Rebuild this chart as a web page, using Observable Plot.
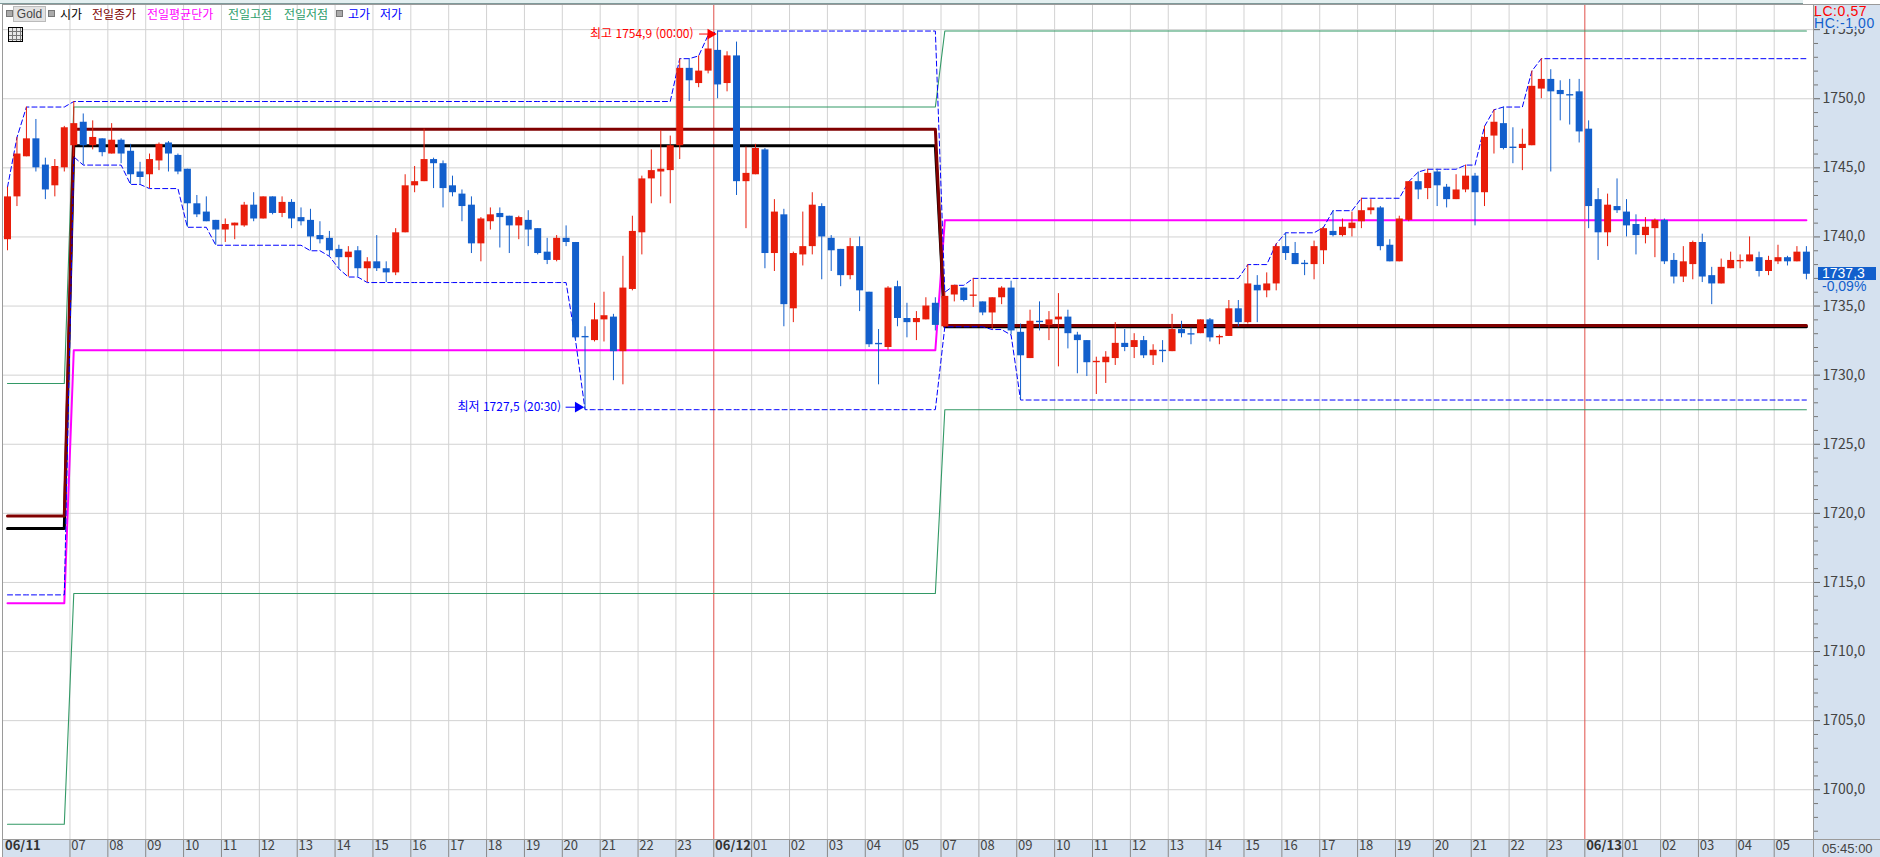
<!DOCTYPE html>
<html lang="ko">
<head>
<meta charset="utf-8">
<script src="https://cdn.jsdelivr.net/npm/d3@7"></script>
<script src="https://cdn.jsdelivr.net/npm/@observablehq/plot@0.6"></script>
<style>
html,body{margin:0;padding:0;background:#fff;width:1880px;height:857px;overflow:hidden}
#stage{position:relative;width:1880px;height:857px;font-family:'Liberation Sans Narrow','Noto Sans CJK KR',sans-serif}
.panel{position:absolute;background:#d5e1ef;z-index:1}
.ln{position:absolute;background:#9a9a9a;z-index:3}
.lg{position:absolute;top:5px;height:16px;line-height:16px;font:12px 'Noto Sans CJK KR',sans-serif;white-space:nowrap;z-index:4}
.sq{position:absolute;top:10px;width:5px;height:5px;background:#aaa;border:1px solid #777;z-index:4}
#topstrip{position:absolute;left:0;top:0;width:1803px;height:3px;background:#e3eff0;border-bottom:1px solid #7f9a9a;z-index:3}
#gold{position:absolute;left:13px;top:6px;width:31px;height:14px;background:#e2e2e2;border:1px solid #bbb;font:12px/14px 'Liberation Sans','Noto Sans CJK KR',sans-serif;color:#444;text-align:center;z-index:4}
#tbl{position:absolute;left:8px;top:27px;width:13px;height:13px;border:1px solid #000;background:linear-gradient(#777,#777) 0 3px/100% 1px no-repeat,linear-gradient(#777,#777) 0 7px/100% 1px no-repeat,linear-gradient(#777,#777) 0 11px/100% 1px no-repeat,repeating-linear-gradient(90deg,#e8e8e8 0 3px,#777 3px 4px);z-index:4}
</style>
</head>
<body>
<div id="stage">
  <div id="topstrip"></div>
  <div class="panel" style="left:1813px;top:4px;width:67px;height:853px"></div>
  <div class="panel" style="left:3px;top:839px;width:1810px;height:18px"></div>
  <div class="ln" style="left:2px;top:4px;width:1878px;height:1px"></div>
  <div class="ln" style="left:2px;top:4px;width:1px;height:853px"></div>
  <div class="ln" style="left:1813px;top:4px;width:1px;height:853px"></div>
  <div class="ln" style="left:2px;top:839px;width:1878px;height:1px"></div>
  <div class="sq" style="left:6px"></div>
  <div id="gold">Gold</div>
  <div class="sq" style="left:48px"></div>
  <div class="sq" style="left:336px"></div>
  <div id="tbl"></div>
</div>
<script>
// ---------- candles: 15-minute bars ----------
const opens = [
1739.8,1742.9,1745.8,1747.1,1745.2,1743.7,1745.0,1746.6,1748.3,1746.6,
1747.1,1746.0,1747.0,1746.2,1744.7,1744.5,1745.5,1746.8,1745.9,1744.9,
1742.4,1741.8,1741.2,1740.5,1740.8,1740.8,1742.3,1741.3,1742.9,1741.7,
1742.5,1741.4,1741.2,1740.1,1739.9,1739.1,1738.5,1739.0,1737.7,1738.2,
1737.7,1737.4,1740.3,1743.7,1744.0,1745.6,1745.3,1743.7,1743.1,1742.3,
1739.5,1741.1,1741.7,1741.5,1740.8,1741.2,1740.6,1738.9,1738.3,1739.9,
1739.6,1732.8,1732.5,1734.0,1734.2,1731.7,1736.2,1740.3,1744.2,1744.7,
1744.8,1746.6,1752.2,1751.1,1752.0,1753.5,1751.1,1753.1,1744.0,1744.5,
1746.3,1738.8,1741.6,1734.8,1738.7,1739.3,1742.2,1739.9,1739.1,1737.2,
1739.3,1736.0,1732.3,1732.0,1736.4,1734.1,1733.8,1734.0,1735.2,1733.5,
1735.8,1736.3,1735.7,1735.3,1734.5,1735.6,1736.3,1733.1,1731.2,1733.9,
1733.6,1734.0,1734.2,1732.9,1732.5,1730.9,1730.9,1731.2,1732.3,1732.0,
1732.5,1731.4,1731.8,1731.7,1733.3,1733.0,1733.0,1734.0,1732.7,1732.8,
1734.8,1733.8,1736.5,1736.1,1736.6,1739.3,1738.8,1738.1,1738.0,1739.0,
1740.4,1740.1,1740.6,1741.1,1741.9,1742.1,1739.4,1738.2,1741.2,1744.0,
1743.5,1744.7,1743.6,1742.7,1743.4,1744.4,1743.2,1747.3,1748.2,1746.5,
1746.4,1746.6,1750.7,1751.4,1750.6,1750.3,1750.5,1747.8,1742.7,1740.3,
1742.2,1741.8,1740.9,1740.1,1740.6,1741.2,1738.3,1737.1,1738.0,1739.6,
1737.2,1736.6,1737.7,1738.2,1738.2,1738.5,1737.5,1738.2,1738.5,1738.2,
1738.9];
const highs = [
1743.6,1747.2,1749.4,1748.5,1745.7,1745.6,1748.0,1749.8,1748.9,1748.4,
1747.1,1748.2,1747.1,1746.7,1745.4,1746.0,1746.8,1746.9,1746.0,1744.9,
1743.0,1742.9,1741.2,1741.3,1741.0,1742.5,1743.2,1742.9,1742.9,1742.9,
1742.7,1742.1,1742.0,1741.1,1740.4,1739.4,1739.3,1739.3,1738.5,1740.1,
1738.2,1740.6,1744.5,1745.1,1747.8,1745.7,1745.5,1744.4,1743.4,1742.9,
1741.4,1742.1,1742.1,1741.5,1741.5,1741.9,1740.6,1739.9,1740.1,1740.8,
1739.6,1733.5,1735.2,1736.0,1734.4,1738.6,1741.5,1744.4,1746.3,1747.7,
1747.3,1752.9,1752.9,1753.1,1754.6,1754.9,1753.4,1754.1,1746.5,1746.7,
1746.4,1742.7,1742.0,1738.9,1741.8,1743.2,1742.4,1740.1,1739.1,1739.9,
1740.0,1736.0,1733.3,1736.4,1736.8,1735.2,1734.6,1735.6,1735.6,1736.0,
1736.5,1736.3,1737.0,1735.3,1735.6,1736.4,1736.8,1733.7,1734.7,1735.3,
1734.6,1735.9,1734.7,1733.1,1732.5,1731.3,1731.7,1733.8,1733.3,1733.0,
1732.8,1732.2,1732.5,1734.4,1733.9,1733.4,1734.0,1734.1,1732.9,1735.4,
1735.4,1738.0,1737.2,1737.4,1739.5,1740.3,1739.6,1738.3,1739.7,1740.7,
1741.9,1741.3,1741.8,1742.8,1742.7,1742.2,1739.8,1741.5,1744.0,1744.7,
1744.9,1744.9,1743.8,1744.5,1745.2,1744.6,1748.0,1749.2,1749.4,1747.9,
1747.8,1752.0,1752.9,1752.1,1751.3,1751.4,1751.4,1748.4,1743.5,1743.1,
1744.2,1742.7,1741.6,1741.4,1741.3,1741.3,1738.8,1739.3,1739.7,1740.2,
1737.8,1738.4,1738.9,1738.7,1740.0,1738.9,1738.6,1739.4,1738.6,1739.3,
1739.3];
const lows = [
1739.0,1742.2,1745.8,1744.7,1742.7,1742.9,1744.7,1745.8,1745.2,1746.3,
1745.8,1746.0,1745.3,1743.8,1743.8,1743.5,1744.8,1744.7,1744.5,1740.7,
1741.4,1741.1,1739.4,1739.6,1739.8,1740.7,1741.1,1741.3,1741.6,1741.4,
1740.6,1740.8,1739.0,1739.5,1738.6,1737.7,1737.1,1737.1,1736.7,1737.5,
1736.7,1737.2,1740.3,1743.2,1744.0,1743.5,1742.1,1742.9,1741.1,1738.8,
1738.2,1740.5,1739.2,1738.8,1739.8,1739.3,1738.7,1738.0,1738.2,1739.3,
1732.5,1727.5,1732.4,1732.4,1729.6,1729.3,1736.1,1738.7,1742.4,1742.9,
1742.4,1745.6,1749.8,1750.8,1751.8,1750.0,1750.5,1743.0,1740.6,1744.5,
1737.7,1737.5,1733.5,1733.8,1737.9,1738.7,1736.9,1737.5,1736.4,1736.9,
1734.6,1732.0,1729.3,1731.8,1733.5,1732.7,1732.5,1734.0,1733.2,1733.5,
1735.3,1735.3,1734.9,1734.3,1733.3,1735.1,1732.9,1728.2,1731.2,1733.2,
1732.5,1730.6,1731.9,1730.1,1729.9,1728.6,1729.4,1730.7,1731.7,1731.2,
1731.2,1730.7,1730.9,1731.7,1732.7,1732.2,1733.0,1732.4,1732.2,1732.8,
1733.5,1733.7,1733.8,1735.6,1736.1,1738.3,1738.0,1737.2,1736.9,1738.0,
1740.0,1740.0,1740.0,1740.6,1741.6,1739.0,1738.2,1738.2,1741.1,1742.7,
1742.7,1742.2,1742.1,1742.7,1743.2,1740.8,1742.2,1746.0,1746.3,1745.3,
1744.8,1746.6,1750.0,1744.7,1748.4,1748.1,1746.8,1740.6,1738.3,1739.3,
1741.7,1740.0,1738.7,1739.5,1738.5,1738.0,1736.6,1736.7,1736.9,1736.7,
1735.1,1736.6,1737.7,1737.7,1738.2,1737.1,1737.2,1738.0,1737.9,1738.2,
1736.9];
const closes = [
1742.9,1746.0,1747.1,1745.0,1743.4,1745.1,1747.9,1748.2,1746.6,1747.2,
1746.1,1747.0,1746.0,1744.5,1744.3,1745.6,1746.7,1746.0,1744.7,1742.4,
1741.6,1741.1,1740.5,1740.9,1741.0,1742.3,1741.3,1742.9,1741.7,1742.5,
1741.3,1741.1,1740.0,1739.8,1739.0,1738.5,1738.9,1737.7,1738.2,1737.7,
1737.4,1740.3,1743.7,1744.0,1745.6,1745.3,1743.5,1743.2,1742.2,1739.5,
1741.3,1741.6,1741.4,1740.8,1741.4,1740.5,1738.8,1738.3,1739.9,1739.6,
1732.7,1732.7,1734.0,1734.3,1731.7,1736.3,1740.4,1744.2,1744.8,1744.9,
1746.6,1752.2,1751.3,1752.0,1753.6,1751.0,1753.1,1744.0,1744.6,1746.4,
1738.8,1741.8,1735.1,1738.8,1739.3,1742.3,1740.0,1739.0,1737.2,1739.3,
1736.1,1732.2,1732.2,1736.3,1734.1,1733.8,1734.1,1735.0,1733.6,1735.7,
1736.5,1735.4,1735.8,1734.5,1735.6,1736.3,1733.2,1731.4,1733.9,1733.8,
1734.0,1734.2,1733.0,1732.5,1730.9,1731.0,1731.3,1732.3,1732.0,1732.5,
1731.4,1731.8,1731.7,1733.3,1733.0,1732.9,1734.0,1732.7,1732.8,1734.8,
1733.8,1736.6,1736.1,1736.6,1739.3,1738.8,1738.0,1738.0,1739.3,1740.6,
1740.1,1740.7,1741.0,1741.9,1742.1,1739.3,1738.2,1741.3,1744.0,1743.4,
1744.6,1743.7,1742.7,1743.4,1744.4,1743.2,1747.2,1748.3,1746.4,1746.4,
1746.7,1750.9,1751.4,1750.5,1750.3,1750.2,1747.6,1742.2,1740.3,1742.3,
1741.9,1740.8,1740.1,1740.7,1741.2,1738.2,1737.1,1738.2,1739.6,1737.1,
1736.6,1737.8,1738.3,1738.3,1738.7,1737.5,1738.3,1738.5,1738.2,1738.9,
1737.3];

// ---------- day high / day low: [value, number of bars it holds] ----------
const dayHighRuns = [[1743.6,1],[1747.2,1],[1749.4,5],[1749.8,64],[1752.9,2],[1753.1,1],[1754.6,1],[1754.9,24],
  [1736.0,1],[1736.5,2],[1737.0,29],[1738.0,3],[1739.5,1],[1740.3,4],[1740.7,1],[1741.9,3],[1742.8,5],[1744.0,1],
  [1744.7,1],[1744.9,4],[1745.2,2],[1748.0,1],[1749.2,1],[1749.4,3],[1752.0,1],[1752.9,29]];
const dayLowRuns = [[1714.1,7],[1745.8,1],[1745.2,5],[1743.8,2],[1743.5,4],[1740.7,3],[1739.4,10],[1739.0,2],
  [1738.6,1],[1737.7,1],[1737.1,2],[1736.7,22],[1732.5,1],[1727.5,38],
  [1733.5,5],[1733.3,2],[1732.9,1],[1728.2,84]];

// ---------- prior-session levels, one value per session ----------
const sessionBars  = [7, 92, 92];
const dayOpen      = [1718.9, 1746.6, 1733.5];
const prevClose    = [1719.8, 1747.8, 1733.6];
const prevAverage  = [1713.5, 1731.8, 1741.2];
const prevHigh     = [1729.4, 1749.4, 1754.9];
const prevLow      = [1697.5, 1714.2, 1727.5];

// ---------- axis labels ----------
const hourLabels = ["07","08","09","10","11","12","13","14","15","16","17","18","19","20","21","22","23",
                    "","01","02","03","04","05"];
const dateLabels = ["06/11","06/12","06/13"];
const dateBars   = [0, 75, 167];
const priceMajor = [1755,1750,1745,1740,1735,1730,1725,1720,1715,1710,1705,1700];
const legendItems = [
  ["시가","#000000",60],["전일종가","#800000",92],["전일평균단가","#ff00ff",147],
  ["전일고점","#2e9e6b",228],["전일저점","#2e9e6b",284],["고가","#0000ff",348],["저가","#0000ff",380]];

const RED = "#e81d0a", BLUE = "#125fcc", GREEN = "#339966", GRID = "#d2d2d2";
const NARROW = "'Liberation Sans Narrow','Noto Sans CJK KR',sans-serif";
const comma = (v, d = 1) => v.toFixed(d).replace(".", ",");

const expand = runs => runs.flatMap(([v, n]) => Array(n).fill(v));
const dayHigh = expand(dayHighRuns), dayLow = expand(dayLowRuns);
const bars = opens.map((o, i) => ({i, o, h: highs[i], l: lows[i], c: closes[i], up: closes[i] >= o, hi: dayHigh[i], lo: dayLow[i]}));
const sessionOf = sessionBars.flatMap((n, s) => Array(n).fill(s));
const levelLine = (arr, opts) => Plot.line(bars, {x: "i", y: d => arr[sessionOf[d.i]], ...opts});

const sessionStarts = [7, 99];
const hourTicks = sessionStarts.flatMap(s => hourLabels.map((t, k) => ({i: s + 4 * k, t})));
const allTicks = hourTicks.map(d => d.i);
const minorPrices = d3.range(1697, 1757).filter(v => v % 5 !== 0);
const highMark = [{i: 75, v: 1754.9, from: 73.1, to: 74.2}];
const lowMark  = [{i: 61, v: 1727.5, from: 59.0, to: 60.2}];
const noLabel = () => "";

const chart = Plot.plot({
  width: 1880, height: 857,
  marginTop: 4, marginBottom: 18, marginLeft: 3, marginRight: 67,
  x: {domain: [-0.4225, 190.75], axis: null},
  y: {domain: [1696.40, 1756.82], axis: null},
  style: {background: "transparent", fontFamily: NARROW},
  marks: [
    Plot.ruleY(priceMajor, {stroke: GRID}),
    Plot.ruleX(hourTicks.filter(d => d.t !== ""), {x: "i", dx: -3.8, stroke: GRID}),
    Plot.ruleX([75, 167], {dx: -3.8, stroke: "#e0504a"}),
    levelLine(prevHigh, {stroke: GREEN, strokeWidth: 1.1}),
    levelLine(prevLow, {stroke: GREEN, strokeWidth: 1.1}),
    levelLine(prevAverage, {stroke: "#ff00ff", strokeWidth: 2}),
    levelLine(dayOpen, {stroke: "#000000", strokeWidth: 3}),
    levelLine(prevClose, {stroke: "#800000", strokeWidth: 3}),
    Plot.line(bars, {x: "i", y: "hi", stroke: "#0000ff", strokeWidth: 1, strokeDasharray: "5,3"}),
    Plot.line(bars, {x: "i", y: "lo", stroke: "#0000ff", strokeWidth: 1, strokeDasharray: "5,3"}),
    Plot.ruleX(bars, {x: "i", y1: "l", y2: "h", stroke: d => d.up ? RED : BLUE, strokeWidth: 1}),
    Plot.ruleX(bars, {x: "i", y1: "o", y2: "c", stroke: d => d.up ? RED : BLUE, strokeWidth: 7}),
    // high / low annotations
    Plot.text(highMark, {x: "i", y: "v", text: () => "최고 1754,9 (00:00)", textAnchor: "end", dx: -24, dy: 3, fill: "#ff0000", fontSize: 12}),
    Plot.ruleY(highMark, {y: "v", x1: "from", x2: "to", dy: 3, stroke: "#ff0000"}),
    Plot.dot(highMark, {x: "i", y: "v", symbol: "triangle", rotate: 90, r: 4, fill: "#ff0000", dx: -7, dy: 3}),
    Plot.text(lowMark, {x: "i", y: "v", text: () => "최저 1727,5 (20:30)", textAnchor: "end", dx: -24, dy: -2.5, fill: "#0000ff", fontSize: 12}),
    Plot.ruleY(lowMark, {y: "v", x1: "from", x2: "to", dy: -2.5, stroke: "#0000ff"}),
    Plot.dot(lowMark, {x: "i", y: "v", symbol: "triangle", rotate: 90, r: 4, fill: "#0000ff", dx: -7, dy: -2.5}),
    // right axis
    Plot.axisY(minorPrices, {anchor: "right", tickSize: 4, tickFormat: noLabel, stroke: "#777"}),
    Plot.axisY(priceMajor, {anchor: "right", tickSize: 6, tickPadding: 3, tickFormat: v => comma(v), fontSize: 14, fill: "#444", stroke: "#666"}),
    // bottom axis
    Plot.axisX(allTicks, {anchor: "bottom", tickSize: 18, tickFormat: noLabel, dx: -3.8, stroke: "#888"}),
    Plot.text(hourTicks, {x: "i", frameAnchor: "bottom", text: "t", textAnchor: "start", dx: -2.5, dy: 10, fontSize: 13, fill: "#444"}),
    Plot.text(dateLabels, {x: (d, k) => dateBars[k], frameAnchor: "bottom", text: d => d, textAnchor: "start", dx: -2.5, dy: 10, fontSize: 13, fontWeight: "bold", fill: "#333"})
  ]
});
chart.style.position = "absolute"; chart.style.left = "0"; chart.style.top = "0"; chart.style.zIndex = "2";
document.getElementById("stage").appendChild(chart);

// right-panel readouts and legend are plain text above the SVG
const stage = document.getElementById("stage");
const addText = (txt, css) => { const s = document.createElement("div"); s.textContent = txt; s.style.cssText = "position:absolute;z-index:5;white-space:nowrap;" + css; stage.appendChild(s); };
legendItems.forEach(([t, c, x]) => { const s = document.createElement("div"); s.className = "lg"; s.textContent = t; s.style.color = c; s.style.left = x + "px"; stage.appendChild(s); });
addText("LC:0,57", "left:1814px;top:5px;height:12px;font:14px/12px 'Liberation Sans Narrow',sans-serif;color:#ff0000;letter-spacing:.6px");
addText("HC:-1,00", "left:1814px;top:17px;height:12px;font:14px/12px 'Liberation Sans Narrow',sans-serif;color:#125fcc;letter-spacing:.6px;background:#d5e1ef;padding-right:4px");
addText("1737,3", "left:1818px;top:267px;width:58px;height:13px;padding-left:4px;box-sizing:border-box;font:14px/13px 'Liberation Sans Narrow',sans-serif;color:#fff;background:#125fcc");
addText("-0,09%", "left:1822px;top:280px;font:14px/13px 'Liberation Sans Narrow',sans-serif;color:#125fcc");
addText("05:45:00", "left:1822px;top:842px;font:13px/13px 'Liberation Sans Narrow',sans-serif;color:#444");
</script>
</body>
</html>
